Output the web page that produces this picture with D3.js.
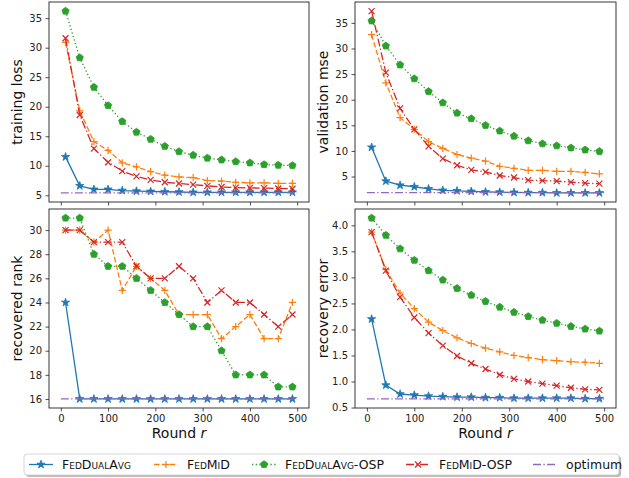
<!DOCTYPE html>
<html><head><meta charset="utf-8">
<script src="https://cdn.jsdelivr.net/npm/d3@7"></script>
<style>body{margin:0;background:#fff} svg{font-family:"DejaVu Sans",sans-serif}</style>
</head><body><svg id="c" width="629" height="478"></svg>
<script>
// ---------- data ----------
const rounds = [10,40,70,100,130,160,190,220,250,280,310,340,370,400,430,460,490];
const optimumRounds = [0, 500];
const seriesNames = ["FedDualAvg","FedMiD","FedDualAvg-OSP","FedMiD-OSP","optimum"];
const xTicks = [0,100,200,300,400,500];

const trainFedDualAvg   = [11.5,6.6,6.0,6.0,5.8,5.7,5.65,5.6,5.55,5.5,5.5,5.5,5.5,5.5,5.5,5.5,5.5];
const trainFedMiD       = [30.9,19.3,14.1,12.6,10.5,9.8,9.0,8.4,8.1,8.0,7.5,7.4,7.2,7.1,7.1,7.0,7.0];
const trainFedDualAvgOSP= [36.2,28.3,23.3,20.2,17.5,15.7,14.5,13.3,12.4,11.8,11.3,11.0,10.7,10.5,10.2,10.1,10.05];
const trainFedMiDOSP    = [31.6,18.6,12.9,10.6,9.1,8.2,7.6,7.2,7.0,6.8,6.6,6.4,6.3,6.25,6.2,6.15,6.1];
const trainOptimum      = [5.4,5.4];
const trainTicks = [5,10,15,20,25,30,35];

const valFedDualAvg    = [10.7,4.1,3.3,3.0,2.6,2.3,2.2,2.1,2.0,1.95,1.9,1.85,1.85,1.8,1.8,1.8,1.8];
const valFedMiD        = [32.7,23.3,16.5,14.2,11.8,10.5,9.3,8.6,8.0,7.0,6.6,6.2,6.2,6.0,6.0,5.8,5.5];
const valFedDualAvgOSP = [35.4,30.5,26.8,24.1,21.6,19.4,17.4,16.3,15.0,13.9,12.9,12.0,11.4,11.0,10.6,10.2,9.9];
const valFedMiDOSP     = [37.3,25.3,18.3,14.2,10.9,8.5,7.2,6.3,5.9,5.2,4.8,4.3,4.2,4.1,3.9,3.7,3.6];
const valOptimum       = [1.85,1.85];
const valTicks = [5,10,15,20,25,30,35];

const rankFedDualAvg    = [24,16,16,16,16,16,16,16,16,16,16,16,16,16,16,16,16];
const rankFedMiD        = [30,30,29,30,25,27,26,25,23,23,23,21,22,23,21,21,24];
const rankFedDualAvgOSP = [31,31,28,27,27,26,25,24,23,22,22,20,18,18,18,17,17];
const rankFedMiDOSP     = [30,30,29,29,29,27,26,26,27,26,24,25,24,24,23,22,23];
const rankOptimum       = [16,16];
const rankTicks = [16,18,20,22,24,26,28,30];

const errFedDualAvg    = [2.20,0.93,0.76,0.74,0.72,0.71,0.70,0.70,0.69,0.69,0.68,0.68,0.68,0.68,0.68,0.67,0.67];
const errFedMiD        = [3.87,3.15,2.70,2.40,2.14,1.98,1.84,1.73,1.64,1.57,1.50,1.46,1.42,1.40,1.38,1.37,1.35];
const errFedDualAvgOSP = [4.14,3.81,3.55,3.33,3.13,2.95,2.79,2.66,2.54,2.43,2.33,2.25,2.18,2.12,2.06,2.01,1.97];
const errFedMiDOSP     = [3.87,3.13,2.62,2.23,1.93,1.69,1.49,1.35,1.24,1.13,1.05,1.00,0.96,0.92,0.88,0.85,0.84];
const errOptimum       = [0.665,0.665];
const errTicks = [0.5,1.0,1.5,2.0,2.5,3.0,3.5,4.0];

// ---------- styles ----------
const colors = ["#1f77b4","#ff7f0e","#2ca02c","#d62728","#9467bd"];
const dashes = [null,"5.5,2.4","1.3,2.4","8,2.4,1.3,2.4","8,2.4,1.3,2.4"];
const markers = ["star","plus","pentagon","x",null];

const svg = d3.select("#c");

function markerPath(kind){
  if(kind==="star") return d3.symbol().type(d3.symbolStar).size(21)();
  if(kind==="plus") return "M-3.6,0H3.6M0,-3.6V3.6";
  if(kind==="x") return "M-3,-3L3,3M-3,3L3,-3";
  if(kind==="pentagon"){
    const r=3.8, pts=[];
    for(let i=0;i<5;i++){const a=-Math.PI/2+i*2*Math.PI/5; pts.push([r*Math.cos(a),r*Math.sin(a)]);}
    return "M"+pts.map(p=>p.join(",")).join("L")+"Z";
  }
  return null;
}
function drawMarker(g,kind,color,x,y){
  const p = g.append("path").attr("d",markerPath(kind)).attr("transform",`translate(${x},${y})`);
  if(kind==="plus"||kind==="x") p.attr("fill","none").attr("stroke",color).attr("stroke-width",1.2);
  else p.attr("fill",color).attr("stroke",color).attr("stroke-width",0.8);
}

const xDomain = (()=>{const lo=0,hi=500,pad=(hi-lo)*0.05;return [lo-pad,hi+pad];})();

function panel(box, data, opt, ticks, ylabel, tickFmt, showX){
  const [x0,x1,y0,y1] = box;
  const all = data.flat().concat(opt);
  const lo=d3.min(all), hi=d3.max(all), pad=(hi-lo)*0.05;
  const x = d3.scaleLinear().domain(xDomain).range([x0,x1]);
  const y = d3.scaleLinear().domain([lo-pad,hi+pad]).range([y1,y0]);
  const g = svg.append("g");
  const line = d3.line().x(d=>x(d[0])).y(d=>y(d[1]));
  const allSeries = data.concat([opt]);
  allSeries.forEach((vals,i)=>{
    const xs = i<4 ? rounds : optimumRounds;
    const pts = xs.map((r,k)=>[r,vals[k]]);
    g.append("path").datum(pts).attr("d",line).attr("fill","none")
      .attr("stroke",colors[i]).attr("stroke-width",1.3)
      .attr("stroke-dasharray",dashes[i]);
    if(markers[i]) pts.forEach(p=>drawMarker(g,markers[i],colors[i],x(p[0]),y(p[1])));
  });
  // axes
  const ax = svg.append("g").attr("transform",`translate(${x0},0)`)
    .call(d3.axisLeft(y).tickValues(ticks).tickFormat(tickFmt).tickSize(3.5).tickPadding(3.5));
  ax.select(".domain").remove();
  ax.selectAll("text").attr("font-size",10).attr("fill","#222").attr("font-family","DejaVu Sans");
  ax.selectAll("line").attr("stroke","#222").attr("stroke-width",0.8);
  const bx = svg.append("g").attr("transform",`translate(0,${y1})`)
    .call(d3.axisBottom(x).tickValues(xTicks).tickFormat(showX?d3.format("d"):"").tickSize(3.5).tickPadding(3.5));
  bx.select(".domain").remove();
  bx.selectAll("text").attr("font-size",10).attr("fill","#222").attr("font-family","DejaVu Sans");
  bx.selectAll("line").attr("stroke","#222").attr("stroke-width",0.8);
  svg.append("rect").attr("x",x0).attr("y",y0).attr("width",x1-x0).attr("height",y1-y0)
    .attr("fill","none").attr("stroke","#222").attr("stroke-width",0.9);
  svg.append("text").attr("transform",`translate(${x0-27},${(y0+y1)/2}) rotate(-90)`)
    .attr("text-anchor","middle").attr("font-size",14).attr("fill","#111").text(ylabel);
  if(showX){
    const t = svg.append("text").attr("x",(x0+x1)/2).attr("y",y1+30)
      .attr("text-anchor","middle").attr("font-size",14).attr("fill","#111");
    t.append("tspan").text("Round ");
    t.append("tspan").attr("font-style","italic").text("r");
  }
}

panel([49,309,2,202],[trainFedDualAvg,trainFedMiD,trainFedDualAvgOSP,trainFedMiDOSP],trainOptimum,trainTicks,"training loss",d3.format("d"),false);
panel([355,616,2,202],[valFedDualAvg,valFedMiD,valFedDualAvgOSP,valFedMiDOSP],valOptimum,valTicks,"validation mse",d3.format("d"),false);
panel([49,309,209,408],[rankFedDualAvg,rankFedMiD,rankFedDualAvgOSP,rankFedMiDOSP],rankOptimum,rankTicks,"recovered rank",d3.format("d"),true);
panel([355,616,209,408],[errFedDualAvg,errFedMiD,errFedDualAvgOSP,errFedMiDOSP],errOptimum,errTicks,"recovery error",d3.format(".1f"),true);

// ---------- legend ----------
const lg = svg.append("g");
const lx0=24, lx1=619, ly0=454, ly1=475;
lg.append("rect").attr("x",lx0+2).attr("y",ly0+2).attr("width",lx1-lx0).attr("height",ly1-ly0)
  .attr("rx",3).attr("fill","#bbb");
lg.append("rect").attr("x",lx0).attr("y",ly0).attr("width",lx1-lx0).attr("height",ly1-ly0)
  .attr("rx",3).attr("fill","#fff").attr("stroke","#ccc").attr("stroke-width",0.8);
const legendX = [29,154,252,406,533];
const ly = (ly0+ly1)/2;
seriesNames.forEach((name,i)=>{
  const lx = legendX[i];
  lg.append("line").attr("x1",lx).attr("x2",lx+24).attr("y1",ly).attr("y2",ly)
    .attr("stroke",colors[i]).attr("stroke-width",1.3).attr("stroke-dasharray",dashes[i]);
  if(markers[i]) drawMarker(lg,markers[i],colors[i],lx+12,ly);
  lg.append("text").attr("x",lx+33).attr("y",ly+4.5).attr("font-size",12.5).attr("fill","#111")
    .style("font-variant", i<4 ? "small-caps" : "normal").text(name);
});
</script>
</body></html>
